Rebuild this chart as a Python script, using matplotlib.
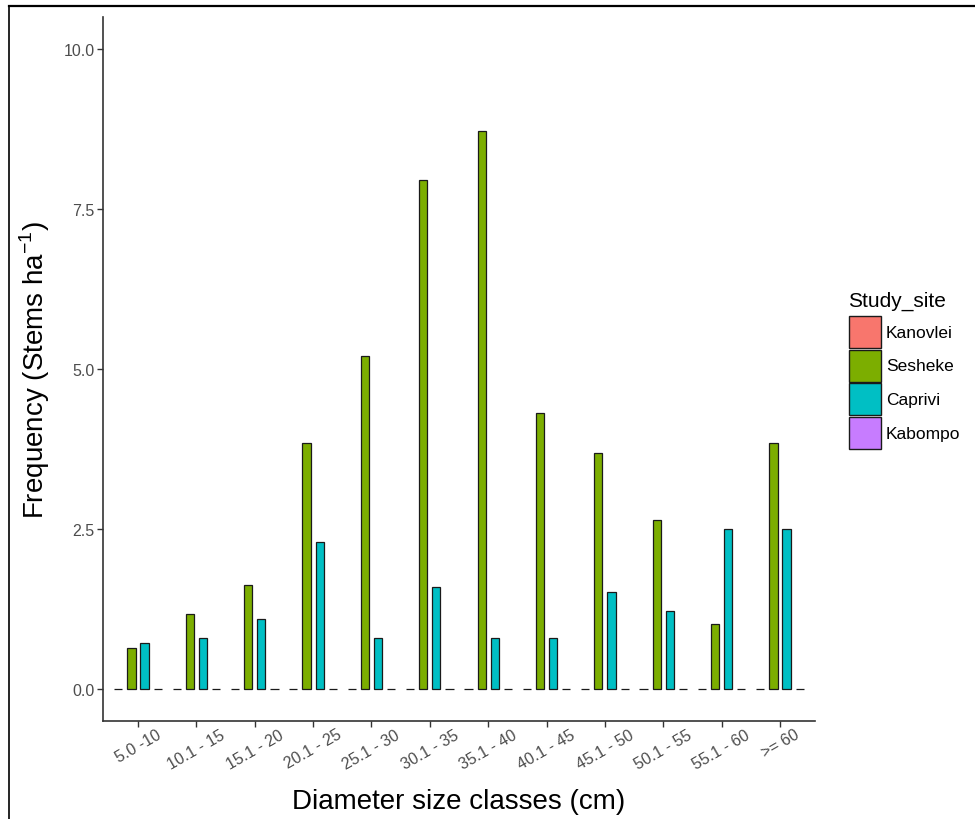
import matplotlib
matplotlib.use("Agg")
import matplotlib.pyplot as plt
from matplotlib.patches import Rectangle
from matplotlib.lines import Line2D
import numpy as np

plt.rcParams['font.family'] = ['Liberation Sans', 'DejaVu Sans']

categories = ["5.0 -10", "10.1 - 15", "15.1 - 20", "20.1 - 25", "25.1 - 30", "30.1 - 35",
              "35.1 - 40", "40.1 - 45", "45.1 - 50", "50.1 - 55", "55.1 - 60", ">= 60"]
sites = ["Kanovlei", "Sesheke", "Caprivi", "Kabompo"]
kanovlei = [0, 0, 0, 0, 0, 0, 0, 0, 0, 0, 0, 0]
sesheke = [0.64, 1.17, 1.63, 3.85, 5.20, 7.95, 8.72, 4.31, 3.69, 2.64, 1.02, 3.85]
caprivi = [0.72, 0.80, 1.10, 2.29, 0.80, 1.60, 0.80, 0.80, 1.52, 1.22, 2.50, 2.50]
kabompo = [0, 0, 0, 0, 0, 0, 0, 0, 0, 0, 0, 0]
site_colors = ["#F8766D", "#7CAE00", "#00BFC4", "#C77CFF"]
yticks = [0.0, 2.5, 5.0, 7.5, 10.0]
ytick_labels = ["0.0", "2.5", "5.0", "7.5", "10.0"]

series = [kanovlei, sesheke, caprivi, kabompo]

W, H = 975, 820
fig = plt.figure(figsize=(W / 100, H / 100), dpi=100)
ax = fig.add_axes([103 / W, 1 - 722 / H, (815 - 103) / W, (722 - 18) / H])

x = np.arange(1, len(categories) + 1)
pitch = 0.225
bw = 0.14
for i, (vals, col) in enumerate(zip(series, site_colors)):
    ax.bar(x + (i - 1.5) * pitch, vals, width=bw, color=col,
           edgecolor="#1a1a1a", linewidth=0.9, zorder=3)

ax.set_xlim(0.4, len(categories) + 0.6)
ax.set_ylim(-0.5, 10.5)
ax.set_yticks(yticks)
ax.set_yticklabels(ytick_labels)
ax.set_xticks(x)
ax.set_xticklabels(categories, rotation=30, ha="center")

for s in ["top", "right"]:
    ax.spines[s].set_visible(False)
for s in ["left", "bottom"]:
    ax.spines[s].set_color("#333333")
    ax.spines[s].set_linewidth(1.2)
ax.tick_params(axis="both", colors="#333333", length=4, width=1.0,
               labelcolor="#4D4D4D", labelsize=11.5, pad=2)
ax.tick_params(axis="x", pad=0)

ax.set_xlabel("Diameter size classes (cm)", fontsize=20, labelpad=12, color="black")
ax.set_ylabel(r"Frequency (Stems ha$^{\mathregular{-1}}$)", fontsize=20, labelpad=8, color="black")

# legend drawn as figure-level key boxes
fig.text(848 / W, 1 - 307 / H, "Study_site", fontsize=15, ha="left", va="baseline")
key_top = 317
key_pitch = 33.7
for i, (name, col) in enumerate(zip(sites, site_colors)):
    top = key_top + i * key_pitch
    fig.add_artist(Rectangle((849 / W, 1 - (top + 32) / H), 32 / W, 32 / H,
                             transform=fig.transFigure, facecolor=col,
                             edgecolor="#1a1a1a", linewidth=1.0))
    fig.text(886 / W, 1 - (top + 16) / H, name, fontsize=12.5, ha="left", va="center")

# screenshot frame
fig.add_artist(Line2D([9 / W, 9 / W], [0, 1 - 7 / H], transform=fig.transFigure,
                      color="black", linewidth=1.2))
fig.add_artist(Line2D([9 / W, 1], [1 - 7 / H, 1 - 7 / H], transform=fig.transFigure,
                      color="black", linewidth=1.6))

fig.savefig("out.png", dpi=100)
